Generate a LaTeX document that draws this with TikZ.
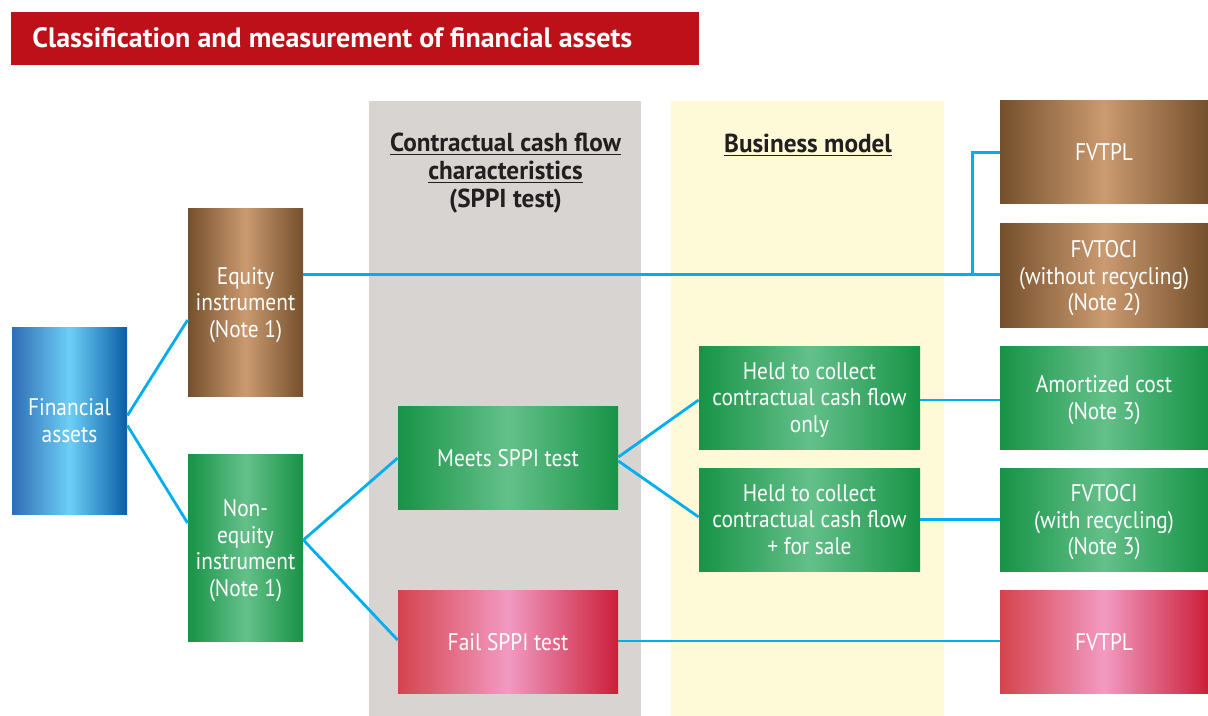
\documentclass[tikz,border=0pt]{standalone}
\usepackage{fontspec}
\setmainfont{PT Sans}[FakeStretch=0.89]
\newfontfamily\headfont{PT Sans}[FakeStretch=0.97]
\newfontfamily\titlefont{PT Sans}[FakeStretch=1.0]
\usetikzlibrary{calc}
\definecolor{titlered}{HTML}{BE1018}
\definecolor{colgray}{HTML}{D8D4D1}
\definecolor{colyellow}{HTML}{FEF9D6}
\definecolor{conncyan}{HTML}{00AEEF}
\definecolor{headtext}{HTML}{231F20}
\definecolor{blueL}{HTML}{2F6DB5}\definecolor{blueM}{HTML}{6DCFF6}\definecolor{blueR}{HTML}{0B5DA6}
\definecolor{brownE}{HTML}{74502C}\definecolor{brownM}{HTML}{CB9A70}
\definecolor{greenE}{HTML}{179346}\definecolor{greenM}{HTML}{64C08A}
\definecolor{redL}{HTML}{D4434D}\definecolor{redM}{HTML}{F29AC2}\definecolor{redR}{HTML}{CC1E38}
\tikzset{
  box/.style={inner sep=0pt, align=center, text=white, text depth=0pt, font=\fontsize{12}{13.2}\selectfont},
  bluebox/.style={box, left color=blueL, right color=blueR, middle color=blueM},
  brownbox/.style={box, left color=brownE, right color=brownE, middle color=brownM},
  greenbox/.style={box, left color=greenE, right color=greenE, middle color=greenM},
  redbox/.style={box, left color=redL, right color=redR, middle color=redM},
  tall/.style={minimum width=57.5pt, minimum height=93.5pt},
  midbox/.style={minimum width=110pt, minimum height=51.5pt},
  rbox/.style={minimum width=104pt, minimum height=51.5pt},
  conn/.style={draw=conncyan, line width=1.4pt},
  head/.style={font=\headfont\bfseries\fontsize{13}{14}\selectfont, text=headtext, align=center, inner sep=0pt}
}
\begin{document}
\begin{tikzpicture}[x=0.5pt,y=-0.5pt]
\useasboundingbox (0,0) rectangle (1208,716);
% title
\fill[titlered] (11,12) rectangle (699,65);
\node[anchor=west, text=white, font=\titlefont\bfseries\fontsize{14}{16}\selectfont, inner sep=0pt] (title) at (32,38) {Classification and measurement of financial assets};
% columns
\fill[colgray] (369,101) rectangle (641,716);
\fill[colyellow] (671,101) rectangle (944,716);
\node[head] (h1) at (505.5,173) {\underline{Contractual cash flow}\\\underline{characteristics}\\(SPPI test)};
\node[head, anchor=base] (h2) at (808,152.5) {\underline{Business model}};
% boxes
\node[bluebox, tall] (fa) at (69.5,420.5) {Financial\\assets};
\node[brownbox, tall] (eq) at (245.5,302.5) {Equity\\instrument\\(Note 1)};
\node[greenbox, tall] (ne) at (245.5,548) {Non-\\equity\\instrument\\(Note 1)};
\node[greenbox, midbox] (meets) at (508,458) {Meets SPPI test};
\node[redbox, midbox] (fail) at (508,641.5) {Fail SPPI test};
\node[greenbox, midbox, minimum width=110.5pt] (hc1) at (809.5,397.5) {Held to collect\\contractual cash flow\\only};
\node[greenbox, midbox, minimum width=110.5pt] (hc2) at (809.5,519.5) {Held to collect\\contractual cash flow\\+ for sale};
\node[brownbox, rbox] (r1) at (1104,152.5) {FVTPL};
\node[brownbox, rbox] (r2) at (1104,275.5) {FVTOCI\\(without recycling)\\(Note 2)};
\node[greenbox, rbox] (r3) at (1104,397.5) {Amortized cost\\(Note 3)};
\node[greenbox, rbox] (r4) at (1104,519.5) {FVTOCI\\(with recycling)\\(Note 3)};
\node[redbox, rbox] (r5) at (1104,641.5) {FVTPL};
% connectors
\coordinate (jn) at ($(r2.west)+(-27,-1)$);
\draw[conn] ($(fa.east)+(0,-5)$) -- ($(eq.west)+(0,17.5)$);
\draw[conn] ($(fa.east)+(0,5)$) -- ($(ne.west)+(0,-25)$);
\draw[conn] ($(eq.east)+(0,-28)$) -- (jn) -- ($(r2.west)+(0,-1)$);
\draw[conn] (jn) |- (r1.west);
\draw[conn] ($(ne.east)+(0,-8)$) -- (meets.west);
\draw[conn] ($(ne.east)+(0,-8)$) -- ($(fail.west)+(0,-1.5)$);
\draw[conn] ($(meets.east)+(0,-1)$) -- ($(hc1.west)+(0,2.5)$);
\draw[conn] ($(meets.east)+(0,3)$) -- ($(hc2.west)+(0,-2.5)$);
\draw[conn] ($(hc1.east)+(0,2.5)$) -- ($(r3.west)+(0,2.5)$);
\draw[conn] (hc2.east) -- (r4.west);
\draw[conn] ($(fail.east)+(0,-0.5)$) -- ($(r5.west)+(0,-0.5)$);
\end{tikzpicture}
\end{document}
